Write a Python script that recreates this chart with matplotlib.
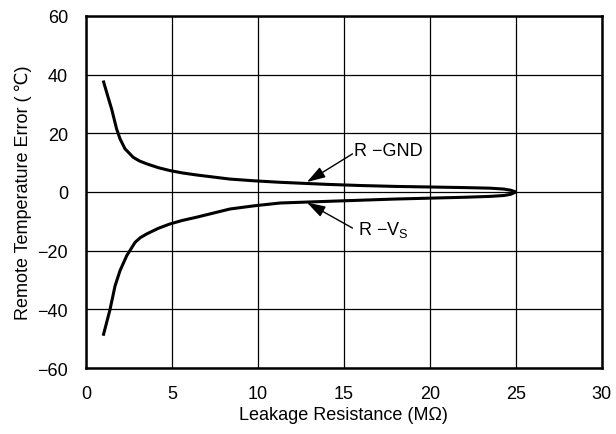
import matplotlib.pyplot as plt

plt.rcParams['font.family'] = ['Liberation Sans', 'DejaVu Sans']

gnd_x = [1.0, 1.25, 1.49, 1.78, 1.98, 2.27, 2.75, 3.1, 3.53, 4.2, 4.88, 5.6, 6.43, 7.4, 8.37, 9.8, 11.3, 14, 16, 18, 20, 22, 23.5, 24.3, 24.7, 25]
gnd_y = [38.0, 33.0, 28.3, 21.5, 18.1, 14.7, 11.8, 10.6, 9.6, 8.3, 7.3, 6.5, 5.8, 5.1, 4.4, 3.8, 3.3, 2.6, 2.2, 1.9, 1.7, 1.5, 1.3, 1.0, 0.6, 0]

vs_x = [1.0, 1.2, 1.4, 1.69, 1.98, 2.37, 2.85, 3.15, 3.53, 4.2, 4.88, 5.6, 6.43, 7.4, 8.37, 9.8, 11.3, 14, 16, 18, 20, 22, 23.5, 24.3, 24.7, 25]
vs_y = [-49, -44.5, -40, -32, -26.8, -21.7, -17.2, -15.6, -14.3, -12.4, -10.9, -9.7, -8.6, -7.2, -5.8, -4.7, -3.75, -3.2, -2.8, -2.4, -2.1, -1.8, -1.5, -1.2, -0.8, 0]

xticks = [0, 5, 10, 15, 20, 25, 30]
yticks = [-60, -40, -20, 0, 20, 40, 60]

fig = plt.figure(figsize=(6.16, 4.35), dpi=100)
ax = fig.add_axes([0.1396, 0.1517, 0.8374, 0.8093])

ax.plot(gnd_x, gnd_y, color="black", lw=2.2, solid_capstyle="butt")
ax.plot(vs_x, vs_y, color="black", lw=2.2, solid_capstyle="butt")

ax.set_xlim(0, 30)
ax.set_ylim(-60, 60)
ax.set_xticks(xticks)
ax.set_yticks(yticks)
ax.set_xticklabels([str(t) for t in xticks])
ax.set_yticklabels([str(t).replace("-", "\u2212") for t in yticks])
ax.tick_params(length=0, labelsize=13)
ax.tick_params(axis="y", pad=13)
ax.tick_params(axis="x", pad=12)
ax.grid(True, color="black", lw=0.9)
for s in ax.spines.values():
    s.set_linewidth(1.8)

ax.set_xlabel("Leakage Resistance (M\u03a9)", fontsize=13, labelpad=3)
ax.set_ylabel("Remote Temperature Error (\u2009\u2103)", fontsize=13, labelpad=4)

arrow = dict(arrowstyle="-|>,head_length=0.7,head_width=0.22", color="black", lw=1.0,
             mutation_scale=16, shrinkA=0, shrinkB=0)
ax.annotate("", xy=(12.85, 3.4), xytext=(15.5, 13), arrowprops=arrow)
ax.text(15.6, 14, "R \u2212GND", fontsize=13, va="center", ha="left")
ax.annotate("", xy=(12.85, -3.6), xytext=(15.5, -12.3), arrowprops=arrow)
ax.text(15.8, -12.6, "R \u2212V$_\\mathregular{S}$", fontsize=13, va="center", ha="left")

fig.savefig("out.png", dpi=100)
